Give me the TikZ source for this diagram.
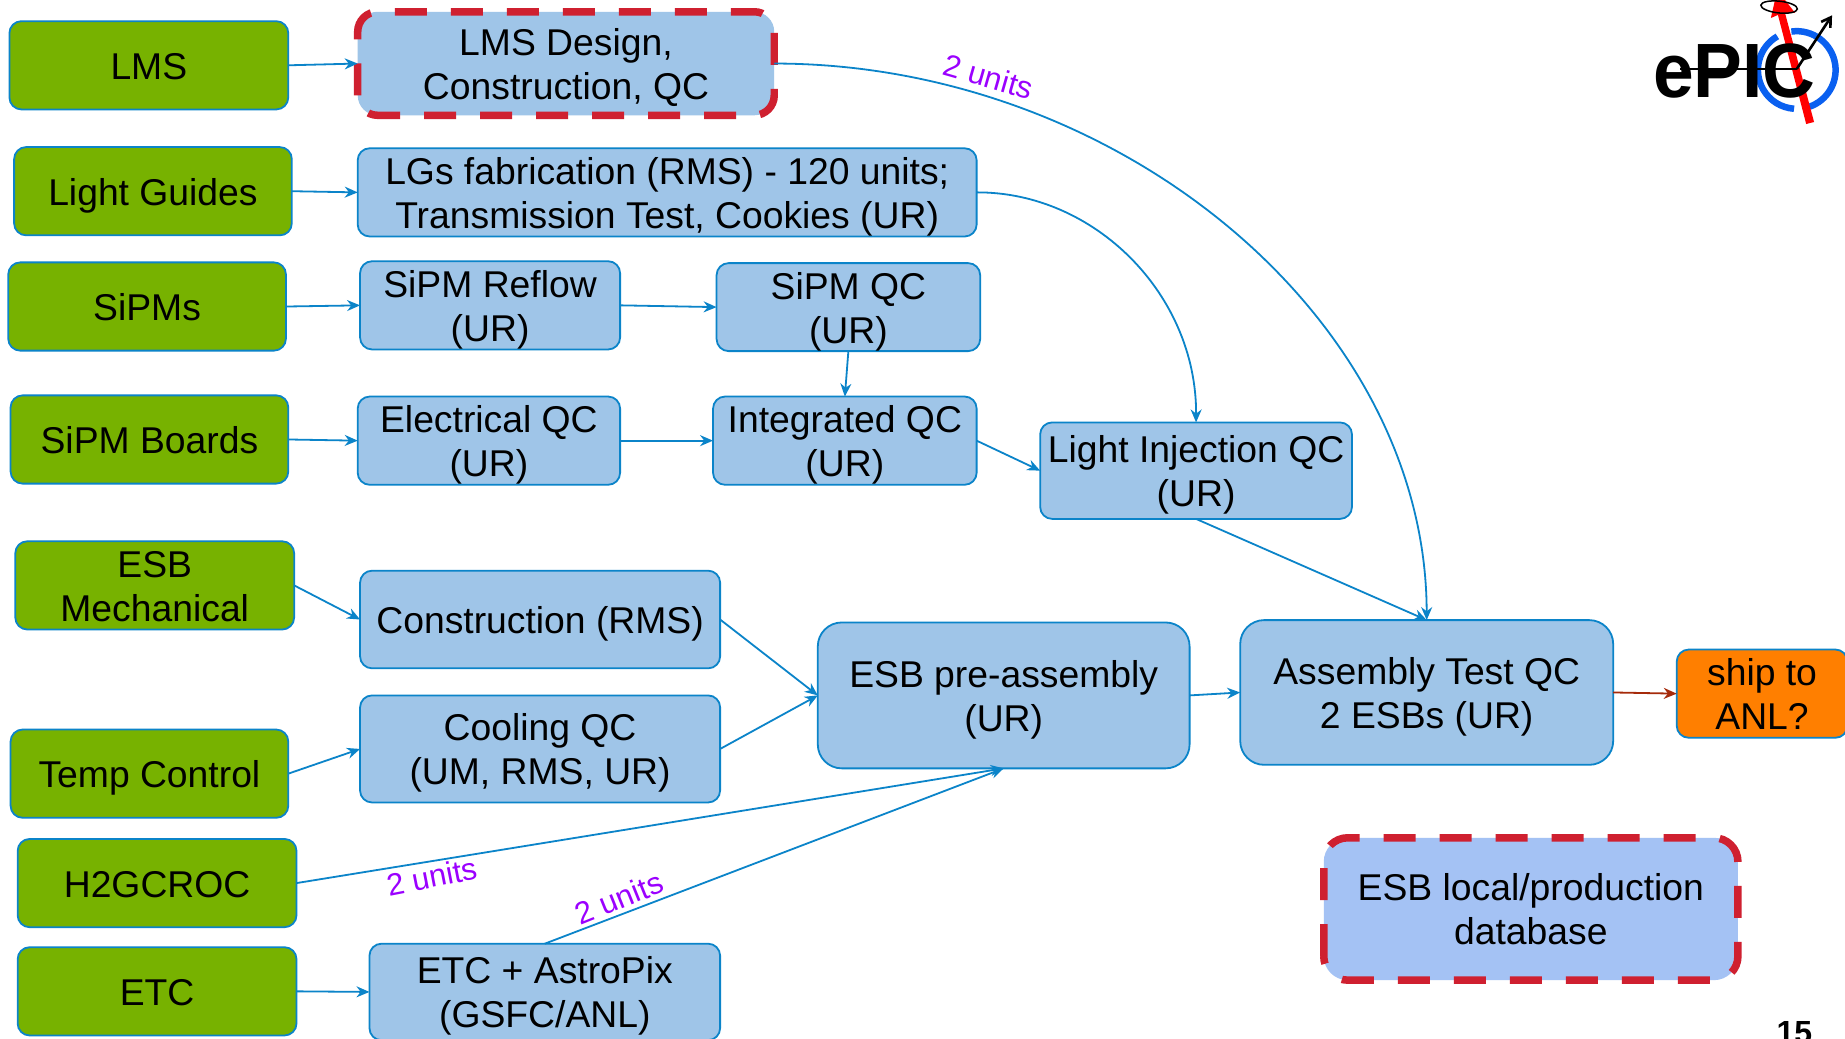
\documentclass[tikz,border=0pt]{standalone}
\usepackage{graphicx}
\usepackage{fontspec}
\setmainfont{Liberation Sans}
\usetikzlibrary{arrows.meta}
\definecolor{edgeblue}{HTML}{0B84C9}
\definecolor{fillblue}{HTML}{9FC5E8}
\definecolor{dbblue}{HTML}{A4C2F4}
\definecolor{leaf}{HTML}{77B200}
\definecolor{ship}{HTML}{FF7F00}
\definecolor{dashred}{HTML}{CF2030}
\definecolor{shiparrow}{HTML}{A52A0A}
\definecolor{unitpurple}{HTML}{9B00FF}
\definecolor{ringblue}{HTML}{0A60F0}
\tikzset{
  x=1.1767pt,y=-1.1767pt,
  base/.style={rounded corners=12pt,draw=edgeblue,line width=1.8pt,align=center,inner sep=0pt,outer sep=0pt,
    font=\fontsize{37.3}{44}\selectfont,text=black},
  greenbox/.style={base,fill=leaf},
  bluebox/.style={base,fill=fillblue},
  bigbox/.style={bluebox,rounded corners=24pt},
  shipbox/.style={base,fill=ship},
  conn/.style={draw=edgeblue,line width=1.8pt,-{Stealth[length=13pt,width=11pt]}},
  shipconn/.style={conn,draw=shiparrow},
  dashline/.style={dashred,line width=7.5pt,dash pattern=on 32pt off 24pt},
  units/.style={text=unitpurple,font=\fontsize{31}{35}\selectfont},
  ringarc/.style={ringblue,line width=6.5pt},
}
\newcommand{\tst}{\rule[-8pt]{0pt}{44pt}}
\newcommand{\bx}[7]{%
  \pgfmathsetmacro{\bw}{(#5-#3)*1.1767}%
  \pgfmathsetmacro{\bh}{(#6-#4)*1.1767}%
  \node[#2,minimum width=\bw pt,minimum height=\bh pt] (#1) at ({(#3+#5)/2},{(#4+#6)/2}) {\tst #7\tst};}
\begin{document}
\begin{tikzpicture}
\useasboundingbox (0,0) rectangle (1568,883);
\clip (0,0) rectangle (1568,883);
\fill[white] (0,0) rectangle (1568,883);
% left column
\bx{lms}{greenbox}{8}{18}{245}{93}{LMS}
\bx{lg}{greenbox}{12}{125}{248}{200}{Light Guides}
\bx{sipms}{greenbox}{7}{223}{243}{298}{SiPMs}
\bx{boards}{greenbox}{9}{336}{245}{411}{SiPM Boards}
\bx{mech}{greenbox}{13}{460}{250}{535}{ESB\\Mechanical}
\bx{temp}{greenbox}{9}{620}{245}{695}{Temp Control}
\bx{h2g}{greenbox}{15}{713}{252}{788}{H2GCROC}
\bx{etc}{greenbox}{15}{805}{252}{880}{ETC}
% process boxes
\bx{lmsd}{bluebox,rounded corners=20pt,draw=none}{304}{10}{658}{98}{LMS Design,\\Construction, QC}
\bx{lgf}{bluebox}{304}{126}{830}{201}{LGs fabrication (RMS) - 120 units;\\Transmission Test, Cookies (UR)}
\bx{reflow}{bluebox}{306}{222}{527}{297}{SiPM Reflow\\(UR)}
\bx{sqc}{bluebox}{609}{224}{833}{298}{SiPM QC\\(UR)}
\bx{eqc}{bluebox}{304}{337}{527}{412}{Electrical QC\\(UR)}
\bx{iqc}{bluebox}{606}{337}{830}{412}{Integrated QC\\(UR)}
\bx{liqc}{bluebox}{884}{359}{1149}{441}{Light Injection QC\\(UR)}
\bx{constr}{bluebox}{306}{485}{612}{568}{Construction (RMS)}
\bx{cool}{bluebox}{306}{591}{612}{682}{Cooling QC\\(UM, RMS, UR)}
\bx{pre}{bigbox}{695}{529}{1011}{653}{ESB pre-assembly\\(UR)}
\bx{asm}{bigbox}{1054}{527}{1371}{650}{Assembly Test QC\\2 ESBs (UR)}
\bx{shipto}{shipbox}{1425}{552}{1570}{627}{ship to\\ANL?}
\bx{astro}{bluebox}{314}{802}{612}{884}{ETC + AstroPix\\(GSFC/ANL)}
\bx{dbfill}{bluebox,rounded corners=24pt,draw=none,fill=dbblue}{1125}{712}{1477}{833}{ESB local/production\\database}
% dashed outlines
\draw[dashline,rounded corners=20pt] (lmsd.south west) rectangle (lmsd.north east);
\draw[dashline,rounded corners=24pt] (dbfill.south west) rectangle (dbfill.north east);
% connectors
\draw[conn] (lms.east) -- (lmsd.west);
\draw[conn] (lg.east) -- (lgf.west);
\draw[conn] (sipms.east) -- (reflow.west);
\draw[conn] (reflow.east) -- (sqc.west);
\draw[conn] (sqc.south) -- (iqc.north);
\draw[conn] (boards.east) -- (eqc.west);
\draw[conn] (eqc.east) -- (iqc.west);
\draw[conn] (iqc.east) -- (liqc.west);
\draw[conn] (lgf.east) .. controls (930,163) and (1017,250) .. (liqc.north);
\draw[conn] (lmsd.east) .. controls (950,54) and (1212,270) .. (asm.north);
\draw[conn] (liqc.south) -- (asm.north);
\draw[conn] (mech.east) -- (constr.west);
\draw[conn] (temp.east) -- (cool.west);
\draw[conn] (constr.east) -- (pre.west);
\draw[conn] (cool.east) -- (pre.west);
\draw[conn] (pre.east) -- (asm.west);
\draw[shipconn] (asm.east) -- (shipto.west);
\draw[conn] (h2g.east) -- (pre.south);
\draw[conn] (astro.north) -- (pre.south);
\draw[conn] (etc.east) -- (astro.west);
% unit labels
\node[units,rotate=-16] (u1) at (840,65) {2 units};
\node[units,rotate=11] (u2) at (367,745) {2 units};
\node[units,rotate=22] (u3) at (526,763) {2 units};
% logo
\coordinate (ringc) at (1527,59.5);
\draw[ringarc] (ringc) ++(-98:33) arc (-98:71:33);
\draw[ringarc] (ringc) ++(-120:33) arc (-120:-266:33);
\fill[red] (1535,105.4) -- (1541.7,103.7) -- (1517,11) -- (1525.6,11) -- (1517,0) -- (1508.5,0) -- (1505,15.3) -- (1511,12.7) -- cycle;
\draw[black,line width=1.5pt,rotate around={-6:(1512,6)}] (1512,6) ellipse (15.6 and 5);
\node[font=\fontsize{77}{77}\selectfont\bfseries,inner sep=0pt,text=black,anchor=base] (logo) at (1474,82.5) {\scalebox{.95}[1]{ePIC}};
\coordinate (stemL) at (1428,58.6);
\coordinate (stemR) at (1527,58.6);
\coordinate (tip) at (1557,13);
\draw[black,line width=1.3pt] (stemL) -- (stemR);
\draw[black,line width=2.6pt,-{Straight Barb[length=9pt,width=11pt]}] (stemR) -- (tip);
\node[font=\fontsize{32}{32}\selectfont\bfseries,inner sep=0pt,text=black] (page) at (1525,878) {15};
\end{tikzpicture}
\end{document}
